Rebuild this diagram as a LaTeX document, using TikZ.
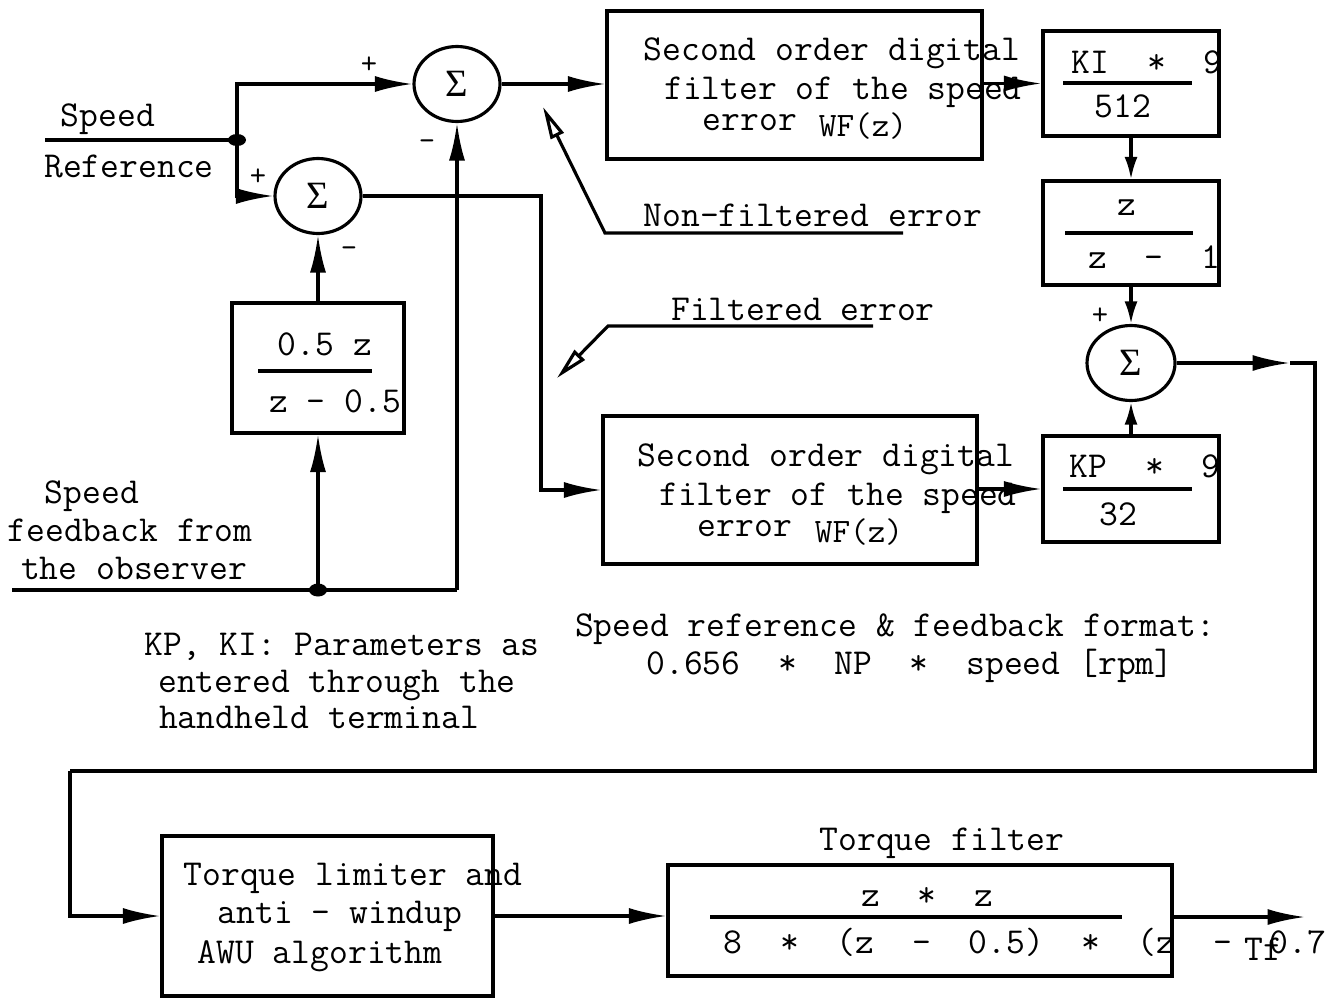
\documentclass[tikz,border=0pt]{standalone}
\usepackage{fontspec}
\newfontfamily\sigmafont{Liberation Serif}
\usetikzlibrary{arrows.meta, shapes.geometric}

\begin{document}
\begin{tikzpicture}[
    x=0.02cm, y=-0.02cm, line width=1.8pt,
    blk/.style={draw, rectangle, inner sep=0pt, line width=1.8pt},
    sumnode/.style={draw, ellipse, inner sep=0pt, minimum width=1.72cm, minimum height=1.5cm, font=\sigmafont\fontsize{22}{24}\selectfont},
    txt/.style={inner sep=0pt, anchor=base, font=\ttfamily\fontsize{20.8}{24}\selectfont},
    sgn/.style={inner sep=0pt, font=\ttfamily\fontsize{18}{20}\selectfont},
    arr/.style={-{Latex[length=0.75cm, width=0.32cm]}},
    arrs/.style={-{Latex[length=0.45cm, width=0.26cm]}},
    ptr/.style={-{Triangle[open, length=0.65cm, width=0.28cm]}}
]
\useasboundingbox (0,0) rectangle (1337,997);

% summing junctions
\node[sumnode] (sum1) at (457,84) {Σ};
\node[sumnode] (sum2) at (318,196) {Σ};
\node[sumnode, minimum width=1.76cm] (sum3) at (1131,363) {Σ};
\node[sgn] (p1) at (369,65) {+};
\node[sgn] (m1) at (427,145) {-};
\node[sgn] (p2) at (258,177) {+};
\node[sgn] (m2) at (349,252) {-};
\node[sgn] (p3) at (1100,316) {+};

% blocks
\node[blk, minimum width=7.5cm, minimum height=2.96cm] (filt1) at (794.5,85) {};
\node[blk, minimum width=7.48cm, minimum height=2.96cm] (filt2) at (790,490) {};
\node[blk, minimum width=3.52cm, minimum height=2.1cm] (ki) at (1131,83.5) {};
\node[blk, minimum width=3.52cm, minimum height=2.08cm] (zint) at (1131,233) {};
\node[blk, minimum width=3.52cm, minimum height=2.12cm] (kp) at (1131,489) {};
\node[blk, minimum width=3.44cm, minimum height=2.6cm] (lpf) at (318,368) {};
\node[blk, minimum width=6.62cm, minimum height=3.2cm] (lim) at (327.5,916) {};
\node[blk, minimum width=10.08cm, minimum height=2.22cm] (tfilt) at (920,920.5) {};

% block texts
\node[txt] (f1a) at (832,61) {Second order digital};
\node[txt] (f1b) at (843,99) {filter of the speed};
\node[txt] (f1c) at (750,130) {error};
\node[txt, font=\ttfamily\fontsize{19.5}{22}\selectfont] (f1d) at (863,136) {WF(z)};
\node[txt] (f2a) at (826,466) {Second order digital};
\node[txt] (f2b) at (838,505) {filter of the speed};
\node[txt] (f2c) at (745,536) {error};
\node[txt, font=\ttfamily\fontsize{19.5}{22}\selectfont] (f2d) at (859,542) {WF(z)};

\node[txt] (kinum) at (1147,73) {KI~~*~~9};
\node[txt] (kiden) at (1123,117) {512};
\draw (1063,83) -- (1192,83);
\node[txt] (znum) at (1127,215) {z};
\node[txt] (zden) at (1154,268) {z~~-~~1};
\draw (1065,233) -- (1193,233);
\node[txt] (kpnum) at (1145,477) {KP~~*~~9};
\node[txt] (kpden) at (1118,525) {32};
\draw (1063,489) -- (1192,489);
\node[txt] (lpfnum) at (325,355) {0.5 z};
\node[txt] (lpfden) at (335,412) {z - 0.5};
\draw (258,371) -- (372,371);

\node[txt] (lima) at (353,885) {Torque limiter and};
\node[txt] (limb) at (340,923) {anti - windup};
\node[txt] (limc) at (320,963) {AWU algorithm};
\node[txt] (tftitle) at (942,850) {Torque filter};
\node[txt] (tfnum) at (927,906) {z~~*~~z};
\node[txt] (tfden) at (1025,953) {8~~*~~(z~~-~~0.5)~~*~~(z~~-~~0.7};
\draw (710,917) -- (1122,917);
\node[txt] (tfout) at (1263,960) {Tf};

% signal labels
\node[txt] (refa) at (108,126) {Speed};
\node[txt] (refb) at (129,177) {Reference};
\node[txt] (fba) at (92,503) {Speed};
\node[txt] (fbb) at (130,541) {feedback from};
\node[txt] (fbc) at (134,579) {the observer};
\node[txt] (nflbl) at (813,226) {Non-filtered error};
\node[txt] (flbl) at (803,320) {Filtered error};
\node[txt] (fmta) at (895,636) {Speed reference \& feedback format:};
\node[txt] (fmtb) at (910,674) {0.656~~*~~NP~~*~~speed [rpm]};
\node[txt] (parma) at (342,655) {KP, KI: Parameters as};
\node[txt] (parmb) at (337,692) {entered through the};
\node[txt] (parmc) at (319,728) {handheld terminal};

% corner points
\coordinate (refin) at (45,140);
\coordinate (refsplit) at (237,140);
\coordinate (fbin) at (12,590);
\coordinate (fbsplit) at (318,590);
\coordinate (fbturn) at (457,590);
\coordinate (s2turn) at (541,196);
\coordinate (outmid) at (1290,363);
\coordinate (outturn) at (1315,363);
\coordinate (loopl) at (70,771);
\coordinate (tfend) at (1305,917);
\coordinate (nfknee) at (605,233);
\coordinate (nfend) at (903,233);
\coordinate (nftip) at (543,107);
\coordinate (fknee) at (608,326);
\coordinate (fend) at (873,326);
\coordinate (ftip) at (557,378);

% connectors
\draw (refin) -- (refsplit);
\draw[arr] (refsplit) |- (sum1.west);
\draw[arr] (refsplit) |- (sum2.west);
\fill (refsplit) ellipse [x radius=0.18cm, y radius=0.12cm];
\draw[arr] (sum1.east) -- (sum1.east -| filt1.west);
\draw[arr] (ki.west -| filt1.east) -- (ki.west);
\draw[arr] (sum2.east) -- (s2turn) |- (filt2.west);
\draw[arr] (kp.west -| filt2.east) -- (kp.west);
\draw[arrs] (ki) -- (zint);
\draw[arrs] (zint) -- (sum3);
\draw[arrs] (kp) -- (sum3);
\draw (fbin) -- (fbturn);
\draw[arr] (fbturn) -- (sum1.south);
\draw[arr] (fbsplit) -- (lpf.south);
\draw[arr] (lpf.north) -- (sum2.south);
\fill (fbsplit) ellipse [x radius=0.18cm, y radius=0.13cm];
\draw[arr] (sum3.east) -- (outmid);
\draw (outmid) -- (outturn) |- (loopl);
\draw[arr] (loopl) |- (lim.west);
\draw[arr] (lim.east) -- (lim.east -| tfilt.west);
\draw[arr] (tfilt.east |- tfend) -- (tfend);
\draw[ptr] (nfend) -- (nfknee) -- (nftip);
\draw[ptr] (fend) -- (fknee) -- (ftip);
\end{tikzpicture}
\end{document}
